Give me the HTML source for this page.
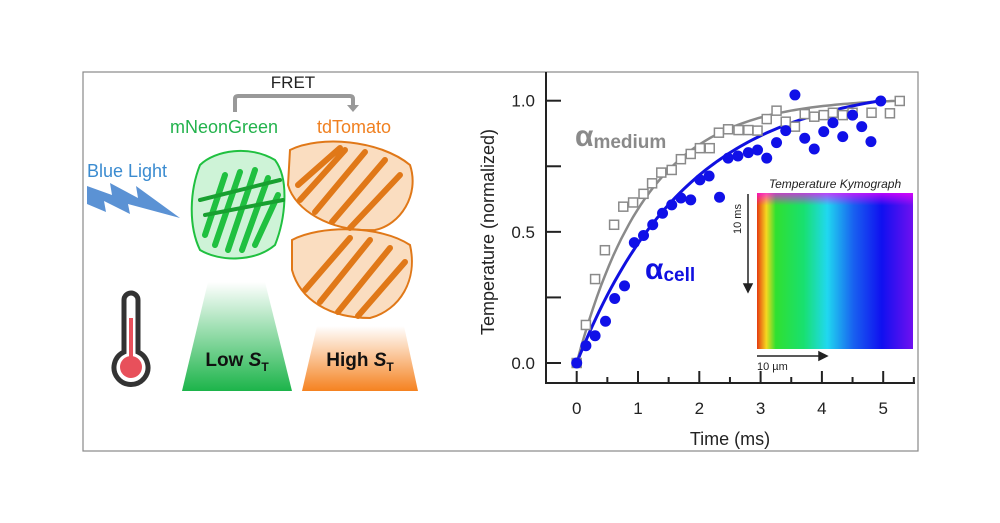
<!DOCTYPE html>
<html><head><meta charset="utf-8"><style>
html,body{margin:0;padding:0;background:#fff;}
svg{display:block;font-family:"Liberation Sans",sans-serif;}
</style></head><body>
<svg id="fig" width="1000" height="523" viewBox="0 0 1000 523">
<defs>
<linearGradient id="gGreen" x1="0" y1="0" x2="0" y2="1"><stop offset="0" stop-color="#fff"/><stop offset="1" stop-color="#1cb44a"/></linearGradient>
<linearGradient id="gOrange" x1="0" y1="0" x2="0" y2="1"><stop offset="0" stop-color="#fff"/><stop offset="1" stop-color="#f58220"/></linearGradient>
<linearGradient id="gKymo" x1="0" y1="0" x2="1" y2="0">
<stop offset="0" stop-color="#e53a10"/><stop offset="0.06" stop-color="#f5d820"/><stop offset="0.12" stop-color="#30e030"/><stop offset="0.3" stop-color="#18e070"/><stop offset="0.45" stop-color="#20d8f0"/><stop offset="0.62" stop-color="#1860f0"/><stop offset="0.8" stop-color="#1010f0"/><stop offset="1" stop-color="#7010f0"/></linearGradient>
<linearGradient id="gKymoTop" x1="0" y1="0" x2="0" y2="1"><stop offset="0" stop-color="#ff00ff" stop-opacity="0.7"/><stop offset="0.08" stop-color="#ff00ff" stop-opacity="0"/></linearGradient>
</defs>
<rect x="83" y="72" width="835" height="379" fill="none" stroke="#888" stroke-width="1.2"/>

<!-- left panel -->
<g>
<text x="293" y="88" font-size="17" text-anchor="middle" fill="#222">FRET</text>
<path d="M235,112 V99 Q235,96 238,96 H350 Q353,96 353,99 V106" fill="none" stroke="#999" stroke-width="4"/>
<path d="M347,105 L359,105 L353,112 Z" fill="#999"/>
<text x="170" y="133" font-size="18" fill="#22b24c">mNeonGreen</text>
<text x="317" y="133" font-size="18" fill="#f08020">tdTomato</text>
<text x="87" y="177" font-size="18" fill="#3a8bd0">Blue Light</text>
<path d="M87,186 L112,195 L110,183 L138,198 L136,186 L180,218 L128,204 L130,214 L104,201 L106,212 L87,204 Z" fill="#5b92d4"/>
<g fill="none" stroke="#20c040" stroke-linecap="round">
<path d="M200,165 C215,150 250,145 275,160 C290,180 285,220 275,245 C255,262 220,262 200,250 C188,225 190,190 200,165 Z" fill="#3cd060" fill-opacity="0.25" stroke-width="2"/>
<path d="M205,235 L225,175 M215,245 L240,172 M228,250 L255,170 M242,250 L268,178 M255,245 L278,195" stroke-width="6"/>
<path d="M200,200 L280,180 M205,215 L283,200" stroke-width="4" stroke="#18a030"/>
</g>
<g fill="none" stroke="#e07818" stroke-linecap="round">
<path d="M290,150 C320,135 380,140 410,165 C420,195 400,225 375,230 C330,232 295,210 288,185 Z" fill="#f09030" fill-opacity="0.3" stroke-width="2"/>
<path d="M292,240 C320,225 380,225 410,245 C418,280 400,310 370,318 C330,318 300,300 292,270 Z" fill="#f09030" fill-opacity="0.3" stroke-width="2"/>
<path d="M300,200 L345,150 M315,212 L365,152 M332,222 L385,160 M350,228 L400,175 M298,185 L340,148" stroke-width="6"/>
<path d="M305,290 L350,238 M320,302 L370,240 M338,312 L390,248 M358,316 L405,262" stroke-width="6"/>
</g>
<path d="M208,282 L265,282 L292,391 L182,391 Z" fill="url(#gGreen)"/>
<text x="237" y="366" font-size="19" font-weight="bold" text-anchor="middle" fill="#111">Low <tspan font-style="italic">S</tspan><tspan font-size="12" dy="5">T</tspan></text>
<path d="M317,326 L404,326 L418,391 L302,391 Z" fill="url(#gOrange)"/>
<text x="360" y="366" font-size="19" font-weight="bold" text-anchor="middle" fill="#111">High <tspan font-style="italic">S</tspan><tspan font-size="12" dy="5">T</tspan></text>
<g>
<path d="M124,300 A7,7 0 0 1 138,300 V352 A17,17 0 1 1 124,352 Z" fill="#fff" stroke="#333" stroke-width="5"/>
<circle cx="131" cy="367" r="11" fill="#e8505b"/>
<rect x="129" y="318" width="4" height="45" fill="#e8505b"/>
</g>
</g>

<!-- chart -->
<g id="chart"></g>
</svg>
<script>
const mediumTimes=[0,0.15,0.3,0.46,0.61,0.76,0.92,1.09,1.23,1.38,1.55,1.7,1.86,2.01,2.17,2.32,2.47,2.64,2.8,2.95,3.1,3.26,3.41,3.56,3.72,3.875,4.03,4.18,4.34,4.5,4.81,5.11,5.27];
const mediumValues=[0,0.145,0.32,0.43,0.527,0.596,0.612,0.645,0.685,0.726,0.736,0.777,0.797,0.819,0.819,0.878,0.891,0.888,0.888,0.886,0.93,0.962,0.92,0.901,0.949,0.939,0.945,0.954,0.945,0.954,0.954,0.952,0.999];
const cellTimes=[0,0.15,0.3,0.47,0.62,0.78,0.94,1.09,1.24,1.4,1.55,1.7,1.86,2.01,2.16,2.33,2.47,2.63,2.8,2.95,3.1,3.26,3.41,3.56,3.72,3.875,4.03,4.18,4.34,4.5,4.65,4.8,4.96];
const cellValues=[0,0.066,0.104,0.159,0.246,0.294,0.459,0.486,0.527,0.571,0.603,0.629,0.622,0.698,0.713,0.632,0.781,0.789,0.802,0.812,0.781,0.84,0.886,1.022,0.857,0.816,0.882,0.916,0.863,0.945,0.901,0.844,0.999];
const xTicks=[0,1,2,3,4,5];
const yTicks=[0,0.5,1.0];
const yTickLabels=["0.0","0.5","1.0"];
const NS="http://www.w3.org/2000/svg";
const g=document.getElementById('chart');
const X=t=>576.7+t*61.3;
const Y=v=>363+(100.7-363)*v;
function mk(tag,a,parent){const e=document.createElementNS(NS,tag);for(const k in a)e.setAttribute(k,a[k]);(parent||g).appendChild(e);return e;}
// kymograph inset
let e;
e=mk('text',{x:835,y:188,'font-size':12,'font-style':'italic','text-anchor':'middle',fill:'#222'});e.textContent='Temperature  Kymograph';


e=mk('rect',{x:757,y:193,width:156,height:156,fill:'url(#gKymo)'});


mk('rect',{x:757,y:193,width:156,height:156,fill:'url(#gKymoTop)'});
e=mk('path',{d:'M748,194 V288 M744,284 L748,292 L752,284 Z',stroke:'#222','stroke-width':1.5,fill:'#222'});


e=mk('text',{x:0,y:0,'font-size':11,fill:'#222','text-anchor':'middle',transform:'translate(741,219) rotate(-90)'});e.textContent='10 ms';


e=mk('path',{d:'M757,356 H823 M819,352 L827,356 L819,360 Z',stroke:'#222','stroke-width':1.5,fill:'#222'});


e=mk('text',{x:757,y:370,'font-size':11,fill:'#222'});e.textContent='10 µm';


// axes
e=mk('path',{d:'M546,72 V383 H915',fill:'none',stroke:'#222','stroke-width':2});


for(let i=0;i<=4;i++){const v=i*0.25;mk('line',{x1:546,x2:561,y1:Y(v),y2:Y(v),stroke:'#222','stroke-width':2});}
yTicks.forEach((v,i)=>{const t=mk('text',{x:535,y:Y(v)+6,'font-size':17,'text-anchor':'end',fill:'#222'});t.textContent=yTickLabels[i];

});
for(let i=0;i<=11;i++){const t=i*0.5;const L=(i%2===0)?12:6;mk('line',{x1:X(t),x2:X(t),y1:383,y2:383-L,stroke:'#222','stroke-width':2});}
xTicks.forEach(t=>{const l=mk('text',{x:X(t),y:414,'font-size':17,'text-anchor':'middle',fill:'#222'});l.textContent=String(t);

});
e=mk('text',{x:730,y:445,'font-size':18,'text-anchor':'middle',fill:'#222'});e.textContent='Time (ms)';


e=mk('text',{x:0,y:0,'font-size':18,'text-anchor':'middle',fill:'#222',transform:'translate(494,232) rotate(-90)'});e.textContent='Temperature (normalized)';


// fit curves
function fit(tau,tEnd){let d='';for(let i=0;i<=80;i++){const t=tEnd*i/80;const v=(1-Math.exp(-t/tau))/(1-Math.exp(-tEnd/tau));d+=(i?'L':'M')+X(t).toFixed(1)+','+Y(v).toFixed(1);}return d;}
e=mk('path',{d:fit(1.15,5.27),fill:'none',stroke:'#8a8a8a','stroke-width':2.5});


e=mk('path',{d:fit(1.8,4.96),fill:'none',stroke:'#1010e0','stroke-width':3});


mediumTimes.forEach((t,i)=>{const r=mk('rect',{x:X(t)-4.5,y:Y(mediumValues[i])-4.5,width:9,height:9,fill:'#fff',stroke:'#8a8a8a','stroke-width':1.5});

});
cellTimes.forEach((t,i)=>{const c=mk('circle',{cx:X(t),cy:Y(cellValues[i]),r:5.5,fill:'#1010e8'});

});
// series labels
e=mk('text',{x:575,y:146,'font-size':30,'font-weight':'bold',fill:'#8a8a8a'});e.innerHTML='α<tspan font-size="19" dy="2">medium</tspan>';


e=mk('text',{x:645,y:279,'font-size':30,'font-weight':'bold',fill:'#1010e0'});e.innerHTML='α<tspan font-size="19" dy="2">cell</tspan>';


</script>
</body></html>
